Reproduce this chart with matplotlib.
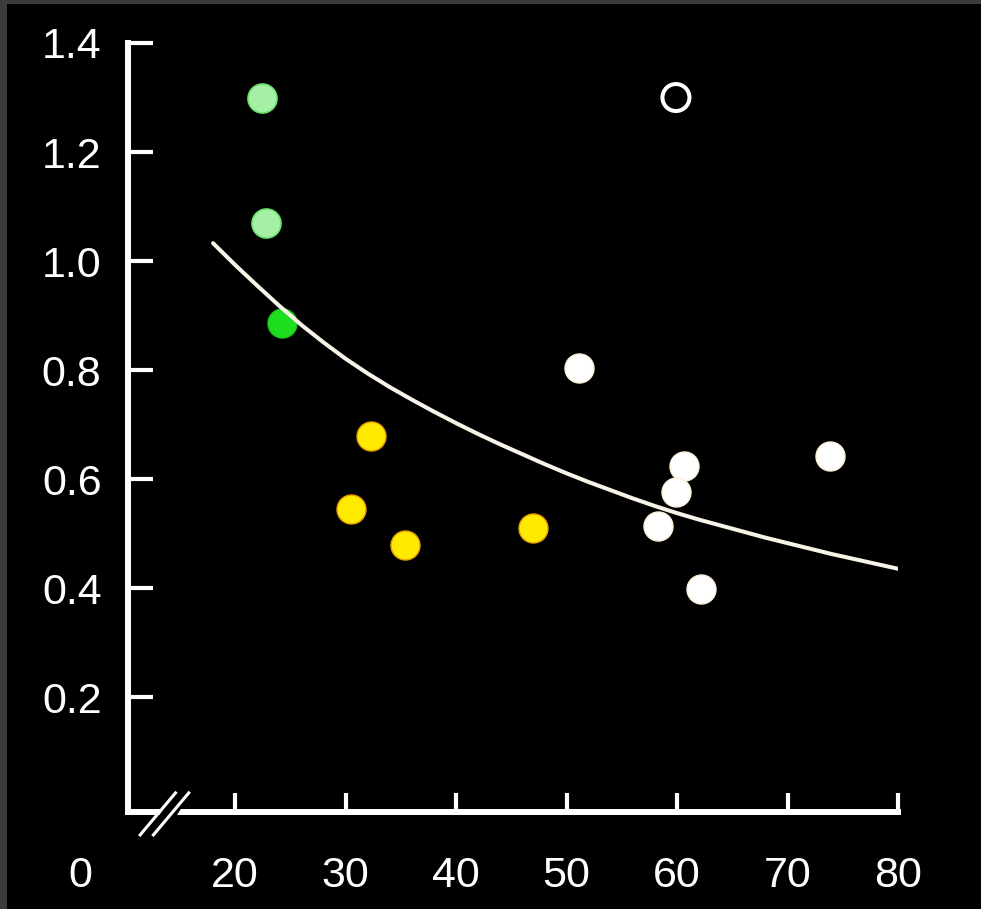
import matplotlib.pyplot as plt
from matplotlib.patches import Rectangle, Polygon

# values
green_x = [22.4, 22.8]
green_y = [1.30, 1.07]
dark_green_x = [24.2]
dark_green_y = [0.886]

yellow_x = [32.3, 30.5, 35.4, 47.0]
yellow_y = [0.679, 0.545, 0.479, 0.511]

white_x = [51.1, 60.6, 59.9, 58.3, 62.2, 73.8]
white_y = [0.804, 0.624, 0.577, 0.514, 0.399, 0.643]

open_x = [59.9]
open_y = [1.30]

# fitted curve, every 2 units
curve_x = [18, 20, 22, 24, 26, 28, 30, 32, 34, 36, 38, 40, 42, 44, 46, 48,
           50, 52, 54, 56, 58, 60, 62, 64, 66, 68, 70, 72, 74, 76, 78, 80]
curve_y = [1.033, 0.993, 0.955, 0.918, 0.883, 0.851, 0.821, 0.794,
           0.769, 0.746, 0.724, 0.703, 0.683, 0.664, 0.646, 0.628,
           0.611, 0.595, 0.580, 0.565, 0.551, 0.538, 0.526, 0.515,
           0.504, 0.493, 0.483, 0.473, 0.463, 0.454, 0.445, 0.436]

x_ticks = [20, 30, 40, 50, 60, 70, 80]
y_ticks = [0.2, 0.4, 0.6, 0.8, 1.0, 1.2, 1.4]

plt.rcParams['font.family'] = ['Liberation Sans', 'DejaVu Sans']

W, H = 981, 909
fig = plt.figure(figsize=(W / 100, H / 100), dpi=100, facecolor='black')

# grey frame at top and left of the screenshot
fig.patches.append(Rectangle((0, 1 - 4 / H), 1, 4 / H, transform=fig.transFigure,
                             facecolor='#3b3b3b', edgecolor='none'))
fig.patches.append(Rectangle((0, 0), 7 / W, 1, transform=fig.transFigure,
                             facecolor='#3b3b3b', edgecolor='none'))

ax = fig.add_axes([128 / W, (H - 812) / H, (898 - 128) / W, (812 - 43) / H])
ax.set_facecolor('black')
ax.set_xlim(10.3, 80)
ax.set_ylim(-0.01, 1.4)

for side in ['top', 'right']:
    ax.spines[side].set_visible(False)
for side in ['left', 'bottom']:
    ax.spines[side].set_color('white')
    ax.spines[side].set_linewidth(4.3)
    ax.spines[side].set_capstyle('projecting')

ax.set_xticks(x_ticks)
ax.set_xticklabels([str(v) for v in x_ticks])
ax.set_yticks(y_ticks)
ax.set_yticklabels([f'{v:.1f}' for v in y_ticks])
ax.tick_params(axis='x', direction='in', length=14, width=3, color='white',
               labelcolor='white', labelsize=31, pad=32)
ax.tick_params(axis='y', direction='in', length=18, width=3, color='white',
               labelcolor='white', labelsize=31, pad=19)

# the "0" at the corner, left of the axis break
ax.annotate('0', xy=(6, 0), xycoords=('data', 'axes fraction'),
            xytext=(0, -32), textcoords='offset points', ha='center', va='top',
            color='white', fontsize=31, annotation_clip=False)

# axis break marks
ax.add_patch(Polygon([(12.0, -0.052), (13.6, -0.052), (16.0, 0.025), (14.4, 0.025)],
                     closed=True, facecolor='black', edgecolor='none',
                     clip_on=False, zorder=5))
ax.plot([11.4, 14.6], [-0.052, 0.025], color='white', lw=2.2, clip_on=False, zorder=6)
ax.plot([12.6, 15.8], [-0.052, 0.025], color='white', lw=2.2, clip_on=False, zorder=6)

ax.plot(curve_x, curve_y, color='#f7f3e6', lw=2.9, solid_capstyle='round',
        solid_joinstyle='round', zorder=3)

ax.scatter(green_x, green_y, s=436, facecolor='#a6efa6', edgecolor='#6fe06f',
           linewidth=1.2, zorder=4)
ax.scatter(dark_green_x, dark_green_y, s=436, facecolor='#1edc1e', edgecolor='#18c818',
           linewidth=1, zorder=2)
ax.scatter(yellow_x, yellow_y, s=436, facecolor='#ffea00', edgecolor='#e6a000',
           linewidth=1, zorder=4)
ax.scatter(white_x, white_y, s=436, facecolor='white', edgecolor='#fff0d8',
           linewidth=1, zorder=4)
ax.scatter(open_x, open_y, s=378, facecolor='none', edgecolor='white',
           linewidth=2.9, zorder=4)

plt.savefig('out.png', dpi=100, facecolor='black')
